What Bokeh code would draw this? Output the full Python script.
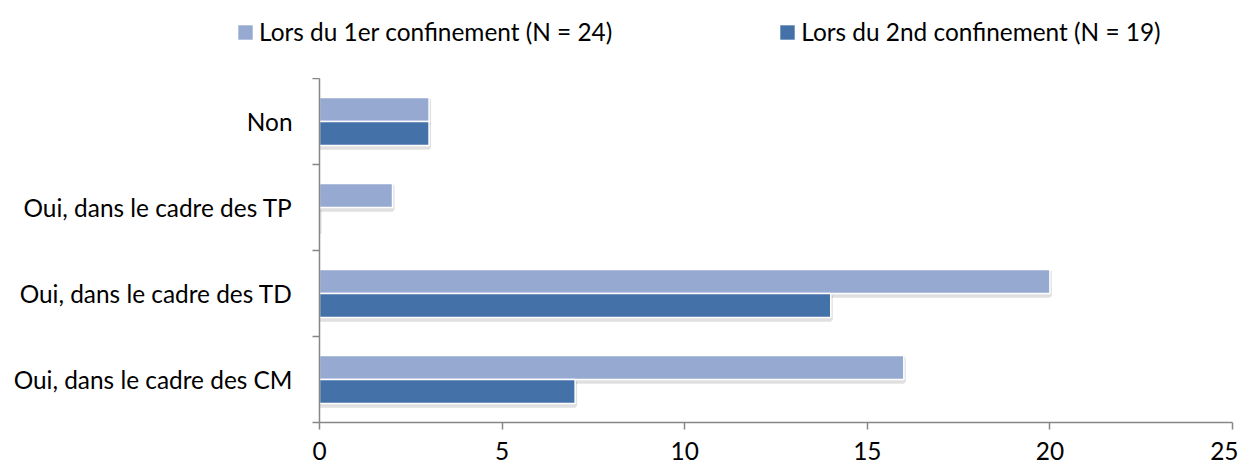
from bokeh.plotting import figure
from bokeh.layouts import column, row
from bokeh.models import (ColumnDataSource, FixedTicker, Legend, LegendItem, Range1d)
from bokeh.transform import dodge
from bokeh.embed import file_html
from bokeh.resources import INLINE

categories = ["Oui, dans le cadre des CM", "Oui, dans le cadre des TD",
              "Oui, dans le cadre des TP", "Non"]
series1_name = "Lors du 1er confinement (N = 24)"
series2_name = "Lors du 2nd confinement (N = 19)"
series1 = [16, 20, 2, 3]
series2 = [7, 14, 0, 3]
x_ticks = [0, 5, 10, 15, 20, 25]

FONT = "Lato"
FS = "24.4px"
LIGHT = "#95A9D1"
DARK = "#4471A8"
AXIS = "#868686"
W = 1238
TOP_H = 78

centers = [i + 0.5 for i in range(len(categories))]
bar_h = 0.28
off = 0.14

src1 = ColumnDataSource(dict(y=[c + off for c in centers], v=series1))
src2 = ColumnDataSource(dict(y=[c - off for c in centers], v=series2))

# ---- legend strip on top ----
top = figure(width=W, height=TOP_H, output_backend="svg", toolbar_location=None,
             x_range=Range1d(0, 25), y_range=Range1d(0, len(categories)),
             x_axis_type=None, y_axis_type=None,
             min_border_left=0, min_border_right=0, min_border_top=0,
             min_border_bottom=0, outline_line_color=None)
l1 = top.hbar(y="y", right="v", left=0, height=bar_h, source=src1,
              fill_color=LIGHT, line_color=None, visible=False)
l2 = top.hbar(y="y", right="v", left=0, height=bar_h, source=src2,
              fill_color=DARK, line_color=None, visible=False)
legend = Legend(items=[LegendItem(label=series1_name, renderers=[l1]),
                       LegendItem(label=series2_name, renderers=[l2])],
                orientation="horizontal", location=(236, 32), padding=0,
                margin=0, border_line_color=None, background_fill_alpha=0,
                inactive_fill_alpha=0,
                glyph_width=18, glyph_height=18, label_standoff=5, spacing=166,
                label_text_font=FONT, label_text_font_size=FS,
                label_text_color="black")
top.add_layout(legend, "center")

# ---- main chart ----
p = figure(width=W, height=468 - TOP_H, output_backend="svg", toolbar_location=None,
           x_range=Range1d(0, 25), y_range=Range1d(0, len(categories)),
           min_border_left=319, min_border_right=6, min_border_top=0,
           min_border_bottom=46, outline_line_color=None)

# soft shadows
for src in (src1, src2):
    p.hbar(y=dodge("y", -0.025), right="v", left=0, height=bar_h, source=src,
           fill_color=None, line_color="#000000", line_alpha=0.12, line_width=4)

p.hbar(y="y", right="v", left=0, height=bar_h, source=src1,
       fill_color=LIGHT, line_color="white", line_width=1.5)
p.hbar(y="y", right="v", left=0, height=bar_h, source=src2,
       fill_color=DARK, line_color="white", line_width=1.5)

p.xgrid.visible = False
p.ygrid.visible = False

xa = p.xaxis[0]
xa.ticker = FixedTicker(ticks=x_ticks, minor_ticks=[])
xa.axis_line_color = AXIS
xa.axis_line_width = 1.5
xa.major_tick_line_color = AXIS
xa.major_tick_line_width = 1.5
xa.major_tick_in = 0
xa.major_tick_out = 7
xa.minor_tick_line_color = None
xa.major_label_text_font = FONT
xa.major_label_text_font_size = FS
xa.major_label_text_color = "black"
xa.major_label_standoff = 12

ya = p.yaxis[0]
ya.ticker = FixedTicker(ticks=centers, minor_ticks=list(range(len(categories) + 1)))
ya.major_label_overrides = {c: lab for c, lab in zip(centers, categories)}
ya.axis_line_color = AXIS
ya.axis_line_width = 1.5
ya.major_tick_line_color = None
ya.major_tick_in = 0
ya.major_tick_out = 0
ya.minor_tick_line_color = AXIS
ya.minor_tick_line_width = 1.5
ya.minor_tick_in = 0
ya.minor_tick_out = 7
ya.major_label_text_font = FONT
ya.major_label_text_font_size = FS
ya.major_label_text_color = "black"
ya.major_label_standoff = 20

layout = column(row(top), p, spacing=0)
open("out.html", "w").write(file_html(layout, INLINE))
